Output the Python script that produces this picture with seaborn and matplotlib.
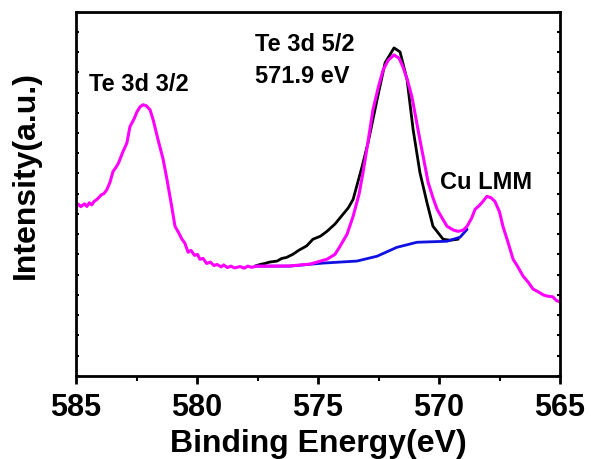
import matplotlib
matplotlib.use("Agg")
import matplotlib.pyplot as plt
import seaborn as sns
import pandas as pd
from matplotlib.ticker import MultipleLocator, NullFormatter

# ---- data ----
env_E = [585.0, 584.9, 584.8, 584.65, 584.55, 584.45, 584.35, 584.25, 584.13, 583.95, 583.85, 583.72,
         583.6, 583.47, 583.35, 583.25, 583.06, 582.9, 582.77, 582.6, 582.48, 582.35, 582.23, 582.1,
         581.94, 581.8, 581.61, 581.4, 581.24, 581.05, 580.91, 580.75, 580.62, 580.5, 580.37, 580.25,
         580.1, 579.98, 579.88, 579.75, 579.6, 579.45, 579.3, 579.17, 579.0, 578.9, 578.75, 578.6,
         578.45, 578.22, 578.05, 577.9, 577.75, 577.52, 576.8, 576.16, 575.33, 574.63, 574.3,
         574.09, 573.8, 573.55, 573.3, 573.14, 572.93, 572.73, 572.5, 572.31, 572.1, 571.86,
         571.65, 571.49, 571.3, 571.12, 570.95, 570.79, 570.6, 570.45, 570.25, 570.08, 569.85,
         569.67, 569.4, 569.21, 569.0, 568.84, 568.65, 568.51, 568.35, 568.22, 568.02, 567.85,
         567.69, 567.5, 567.36, 567.15, 566.94, 566.75, 566.53, 566.3, 566.12, 565.9, 565.7,
         565.54, 565.3, 565.15, 565.0]
env_I = [8.33, 8.48, 8.36, 8.5, 8.37, 8.55, 8.45, 8.62, 8.72, 8.95, 9.0, 9.21,
         9.55, 10.10, 10.3, 10.5, 11.08, 11.5, 12.32, 12.7, 13.05, 13.3, 13.40, 13.35,
         13.15, 12.6, 11.67, 10.7, 9.70, 8.4, 7.39, 7.05, 6.75, 6.55, 6.11, 6.2,
         5.95, 6.0, 5.76, 5.8, 5.55, 5.62, 5.45, 5.50, 5.38, 5.48, 5.35, 5.42,
         5.33, 5.40, 5.32, 5.42, 5.36, 5.42, 5.42, 5.43, 5.52, 5.76, 6.0,
         6.40, 7.0, 7.88, 9.0, 10.05, 11.6, 13.15, 14.3, 15.12, 15.6, 15.86,
         15.7, 15.27, 14.6, 13.79, 12.7, 11.67, 10.5, 9.56, 8.8, 8.23, 7.75,
         7.39, 7.2, 7.14, 7.2, 7.39, 7.8, 8.23, 8.4, 8.57, 8.87, 8.8,
         8.62, 8.1, 7.39, 6.6, 5.76, 5.4, 4.93, 4.6, 4.29, 4.15, 4.0,
         3.94, 3.9, 3.72, 3.65]

raw_E = [577.6, 577.4, 577.2, 577.0, 576.69, 576.5, 576.3, 576.03, 575.8, 575.47, 575.21, 574.9,
         574.63, 574.3, 573.97, 573.75, 573.55, 573.18, 572.93, 572.56, 572.23, 571.86, 571.61,
         571.32, 571.07, 570.79, 570.5, 570.25, 569.83, 569.55, 569.21]
raw_I = [5.42, 5.50, 5.55, 5.62, 5.67, 5.80, 5.85, 6.01, 6.2, 6.42, 6.75, 6.9,
         7.14, 7.5, 7.98, 8.3, 8.72, 10.34, 11.53, 13.65, 15.47, 16.21, 16.01,
         14.63, 12.17, 10.05, 8.57, 7.39, 6.75, 6.70, 6.75]

bg_E = [577.6, 576.16, 574.79, 573.39, 572.56, 571.74, 570.91, 569.67, 569.13, 568.84]
bg_I = [5.42, 5.42, 5.57, 5.67, 5.91, 6.35, 6.60, 6.65, 6.85, 7.24]

x_ticks = [585, 580, 575, 570, 565]
labels = [("Te 3d 3/2", 584.46, 14.14), ("Te 3d 5/2", 577.6, 16.1),
          ("571.9 eV", 577.6, 14.5), ("Cu LMM", 569.96, 9.3)]

# ---- plot ----
sns.set_theme(style="ticks")
plt.rcParams["font.family"] = ["Liberation Sans", "DejaVu Sans"]
plt.rcParams["font.weight"] = "bold"
plt.rcParams["text.color"] = "black"
plt.rcParams["axes.labelcolor"] = "black"
plt.rcParams["xtick.color"] = "black"
plt.rcParams["ytick.color"] = "black"

fig = plt.figure(figsize=(5.91, 4.60), dpi=100)
ax = fig.add_axes([0.1286, 0.1810, 0.8190, 0.7914])

df_raw = pd.DataFrame({"E": raw_E, "I": raw_I})
df_bg = pd.DataFrame({"E": bg_E, "I": bg_I})
df_env = pd.DataFrame({"E": env_E, "I": env_I})

sns.lineplot(data=df_raw, x="E", y="I", color="black", lw=2.0, sort=False, ax=ax)
sns.lineplot(data=df_bg, x="E", y="I", color="#1010e0", lw=2.0, sort=False, ax=ax)
sns.lineplot(data=df_env, x="E", y="I", color="#ff00ff", lw=2.2, sort=False, ax=ax)

ax.set_xlim(585, 565)
ax.set_ylim(0, 18)
ax.set_xticks(x_ticks)
ax.xaxis.set_minor_locator(MultipleLocator(2.5))
ax.yaxis.set_major_locator(MultipleLocator(1))
ax.yaxis.set_major_formatter(NullFormatter())

for s in ax.spines.values():
    s.set_linewidth(2.0)
    s.set_color("black")

ax.tick_params(axis="x", which="major", direction="out", length=6, width=2,
               labelsize=22, pad=6, top=False, labelcolor="black")
ax.tick_params(axis="x", which="minor", direction="out", length=3.5, width=1.5, top=False)
ax.tick_params(axis="y", which="major", direction="in", length=2.5, width=1.5,
               left=True, right=True)
for lab in ax.get_xticklabels():
    lab.set_fontweight("bold")

ax.set_xlabel("Binding Energy(eV)", fontsize=23, fontweight="bold", labelpad=4, color="black")
ax.set_ylabel("Intensity(a.u.)", fontsize=23, fontweight="bold", color="black")
ax.yaxis.set_label_coords(-0.072, 0.555)

for txt, xe, yi in labels:
    ax.text(xe, yi, txt, fontsize=17, fontweight="bold", ha="left", va="baseline",
            color="black")

fig.savefig("out.png", dpi=100)
